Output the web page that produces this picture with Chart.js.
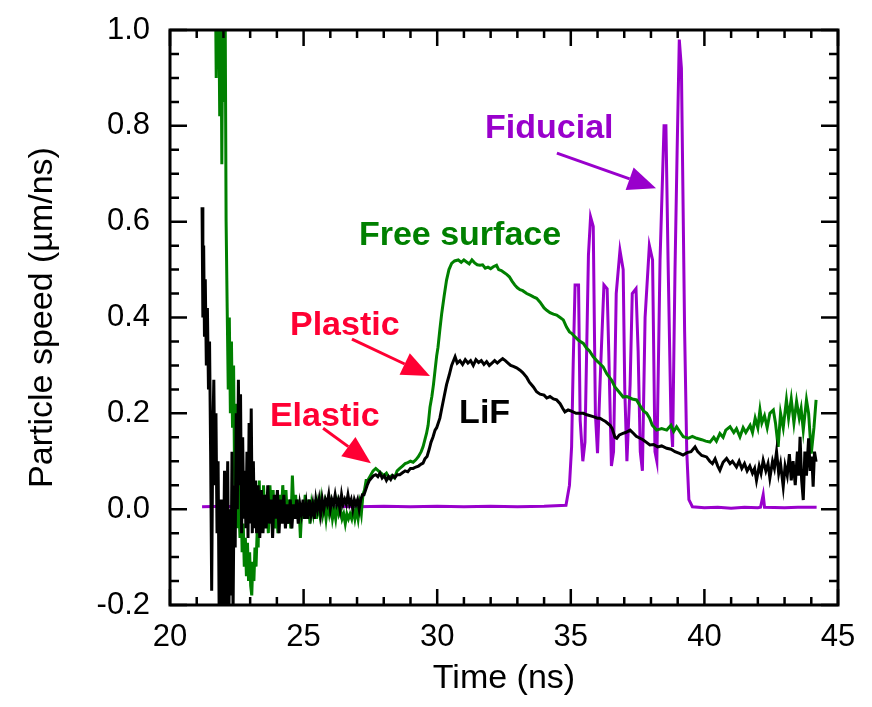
<!DOCTYPE html>
<html>
<head>
<meta charset="utf-8">
<script src="https://cdn.jsdelivr.net/npm/chart.js@4.4.1/dist/chart.umd.min.js"></script>
<style>
  body { margin: 0; background: #fff; }
</style>
</head>
<body>
<canvas id="myChart" width="872" height="707"></canvas>
<script>
// time (ns) and particle speed (um/ns)
const lifTime = [21.20,21.23,21.26,21.29,21.32,21.36,21.40,21.44,21.48,21.52,21.56,21.60,21.64,21.68,21.72,21.76,21.80,21.84,21.88,21.92,21.96,22.00,22.04,22.08,22.12,22.16,22.20,22.24,22.28,22.32,22.36,22.40,22.44,22.48,22.52,22.56,22.60,22.64,22.68,22.72,22.76,22.80,22.84,22.88,22.92,22.96,23.00,23.04,23.08,23.12,23.16,23.20,23.24,
  23.30,23.36,23.42,23.48,23.54,23.60,23.66,23.72,23.78,23.84,23.90,23.96,24.02,24.08,24.14,24.20,24.26,24.32,24.38,24.44,24.50,24.56,24.62,24.68,24.74,24.80,24.86,24.92,24.98,25.04,25.10,25.16,25.22,25.28,25.34,25.40,25.46,25.52,25.58,25.64,25.70,25.76,25.82,25.88,25.94,26.00,26.06,26.12,26.18,26.24,26.30,26.36,26.42,26.48,26.54,26.60,26.66,26.72,26.78,26.84,26.90,26.96,27.02,27.08,27.14,
  27.20,27.26,27.32,27.38,27.46,27.54,27.62,27.70,27.78,27.86,27.94,28.02,28.10,28.18,28.26,28.34,28.42,28.50,28.60,28.70,28.80,28.90,29.00,29.10,29.20,29.30,29.40,29.47,29.54,29.62,29.70,29.77,29.84,29.92,29.98,30.04,30.10,30.17,30.26,30.35,30.45,30.54,30.67,30.75,30.85,30.95,31.05,31.15,31.25,31.35,31.45,31.55,31.65,31.75,31.85,31.95,32.05,32.15,32.25,32.35,32.45,32.55,32.65,32.75,32.85,32.97,33.10,33.20,33.35,33.45,33.60,33.72,33.85,34.00,34.10,34.22,34.35,34.47,34.60,34.70,34.78,34.90,35.00,35.20,35.35,35.47,35.60,35.84,36.00,36.09,36.20,36.30,36.47,36.55,36.65,36.72,36.82,36.95,37.05,37.22,37.35,37.45,37.59,37.70,37.82,37.96,38.10,38.25,38.40,38.59,38.75,38.90,39.09,39.20,39.35,39.50,39.65,39.75,39.90,40.08,40.20,40.30,40.40,40.50,40.58,40.70,40.83,40.96,41.05,41.20,41.30,41.40,41.50,41.60,41.70,41.80,41.88,41.95,42.05,42.12,42.20,42.30,42.38,42.45,42.55,42.62,42.70,42.78,42.85,42.95,43.02,43.10,43.18,43.25,43.32,43.40,43.48,43.53,43.58,43.64,43.70,43.76,43.82,43.90,43.96,44.02,44.07,44.12,44.18];
const lifSpeed = [0.63,0.40,0.55,0.36,0.48,0.30,0.42,0.25,0.35,0.12,-0.17,0.15,0.27,0.05,0.20,-0.05,0.10,-0.22,-0.10,0.02,-0.25,-0.12,0.08,-0.22,-0.05,0.10,-0.25,0.00,-0.18,0.12,-0.22,0.05,-0.08,0.20,0.00,0.27,0.05,0.24,-0.05,0.15,-0.02,0.08,-0.04,0.12,-0.06,0.18,-0.03,0.21,-0.05,0.10,-0.04,0.06,-0.05,
  0.05,-0.06,0.04,-0.05,0.03,-0.04,0.05,-0.03,0.02,-0.06,0.03,-0.02,0.04,-0.05,0.02,-0.03,0.03,-0.04,0.01,-0.03,0.02,-0.04,0.01,-0.02,0.02,-0.03,0.01,-0.01,0.02,-0.02,0.01,-0.02,0.02,-0.01,0.01,-0.02,0.02,0.00,0.02,-0.01,0.02,0.00,0.02,0.01,0.03,0.00,0.02,0.01,0.03,0.01,0.02,0.00,0.03,0.01,0.02,0.01,0.03,0.01,0.02,0.00,0.02,0.01,0.02,0.00,0.02,
  0.03,0.03,0.04,0.05,0.06,0.065,0.07,0.072,0.068,0.075,0.065,0.07,0.06,0.068,0.062,0.07,0.066,0.072,0.072,0.076,0.08,0.078,0.085,0.085,0.088,0.09,0.094,0.096,0.105,0.11,0.125,0.14,0.15,0.165,0.17,0.18,0.19,0.21,0.235,0.26,0.28,0.30,0.318,0.305,0.31,0.302,0.312,0.305,0.31,0.30,0.312,0.306,0.31,0.302,0.308,0.30,0.305,0.31,0.305,0.31,0.314,0.31,0.305,0.30,0.298,0.295,0.29,0.285,0.275,0.265,0.255,0.245,0.24,0.238,0.232,0.235,0.23,0.228,0.22,0.21,0.203,0.207,0.205,0.20,0.20,0.20,0.197,0.193,0.19,0.19,0.186,0.183,0.175,0.168,0.15,0.148,0.155,0.158,0.16,0.165,0.158,0.152,0.148,0.145,0.14,0.134,0.135,0.13,0.132,0.127,0.125,0.12,0.116,0.113,0.118,0.12,0.13,0.12,0.112,0.109,0.10,0.095,0.105,0.09,0.081,0.098,0.106,0.095,0.10,0.088,0.10,0.085,0.095,0.08,0.09,0.075,0.085,0.06,0.09,0.075,0.102,0.08,0.095,0.065,0.10,0.085,0.12,0.075,0.095,0.047,0.09,0.07,0.115,0.06,0.10,0.05,0.12,0.07,0.151,0.06,0.019,0.12,0.07,0.148,0.08,0.11,0.047,0.12,0.099];

const freeTime = [21.70,21.73,21.76,21.79,21.82,21.86,21.90,21.94,21.98,22.02,22.06,22.10,22.14,22.18,22.22,22.26,22.30,22.34,22.38,22.42,22.46,22.50,22.54,22.58,22.62,22.66,22.70,22.74,22.78,22.82,22.86,22.90,22.94,22.98,23.02,23.06,23.10,23.14,23.18,23.22,23.26,23.30,23.34,23.38,23.42,
  23.46,23.50,23.56,23.62,23.68,23.74,23.80,23.86,23.92,23.98,24.04,24.10,24.16,24.22,24.28,24.34,24.40,24.46,24.52,24.58,24.64,24.70,24.76,24.82,24.88,24.94,25.00,25.06,25.12,25.18,25.24,25.30,25.36,25.42,25.48,25.54,25.60,25.66,25.72,25.78,25.84,25.90,25.96,26.02,26.08,26.14,26.20,26.26,26.32,26.38,26.44,26.50,26.56,26.62,26.68,26.74,26.80,26.86,26.92,26.98,27.04,27.10,27.16,27.22,27.28,27.34,
  27.40,27.50,27.60,27.70,27.80,27.90,28.00,28.10,28.20,28.30,28.40,28.50,28.60,28.70,28.80,28.90,29.00,29.10,29.20,29.30,29.40,29.47,29.54,29.60,29.66,29.73,29.80,29.86,29.92,29.98,30.03,30.10,30.17,30.26,30.35,30.44,30.54,30.65,30.79,30.90,31.00,31.10,31.20,31.30,31.40,31.50,31.60,31.70,31.80,31.90,32.00,32.10,32.22,32.30,32.40,32.50,32.60,32.70,32.80,32.90,33.00,33.10,33.20,33.35,33.50,33.60,33.72,33.85,34.00,34.10,34.22,34.35,34.47,34.60,34.72,34.84,34.95,35.03,35.15,35.30,35.47,35.59,35.70,35.84,35.97,36.10,36.21,36.35,36.45,36.53,36.65,36.80,36.96,37.10,37.30,37.46,37.60,37.72,37.84,37.95,38.05,38.21,38.40,38.59,38.75,38.85,38.96,39.10,39.21,39.40,39.55,39.71,39.90,40.05,40.21,40.35,40.45,40.58,40.70,40.80,40.96,41.10,41.20,41.33,41.45,41.55,41.71,41.80,41.90,42.00,42.08,42.15,42.25,42.35,42.45,42.58,42.66,42.76,42.85,42.95,43.07,43.15,43.25,43.35,43.45,43.55,43.62,43.70,43.82,43.90,44.00,44.10,44.18];
const freeSpeed = [1.10,0.90,1.10,0.92,1.10,0.82,1.10,0.72,1.10,0.85,1.10,0.60,0.42,0.25,0.40,0.20,0.35,0.17,0.30,0.05,0.22,-0.04,0.14,0.00,-0.06,0.02,-0.09,-0.03,-0.12,-0.06,-0.14,-0.07,-0.15,-0.09,-0.16,-0.18,-0.11,-0.15,-0.08,-0.12,-0.05,-0.08,0.06,-0.03,0.04,
  -0.04,0.05,-0.03,0.03,-0.05,0.05,-0.02,0.04,-0.04,0.02,-0.05,0.03,-0.02,0.05,-0.01,0.04,-0.03,0.02,-0.04,0.07,-0.01,0.03,-0.02,0.02,-0.06,0.01,-0.02,0.03,-0.02,0.02,-0.03,0.01,-0.01,0.02,-0.02,0.01,-0.01,0.02,-0.01,0.01,-0.02,0.01,-0.01,0.01,-0.02,0.00,-0.02,0.01,-0.01,0.00,-0.02,-0.01,-0.03,-0.01,-0.02,-0.01,-0.02,0.00,-0.02,0.00,-0.02,0.01,-0.01,0.03,0.04,0.06,
  0.06,0.07,0.08,0.085,0.08,0.075,0.07,0.075,0.065,0.07,0.065,0.08,0.085,0.09,0.095,0.097,0.10,0.098,0.103,0.11,0.12,0.13,0.145,0.158,0.175,0.213,0.235,0.26,0.29,0.32,0.338,0.375,0.409,0.445,0.478,0.50,0.513,0.518,0.52,0.515,0.52,0.516,0.512,0.52,0.514,0.51,0.509,0.51,0.503,0.505,0.502,0.506,0.509,0.50,0.498,0.494,0.49,0.485,0.476,0.468,0.462,0.458,0.456,0.45,0.446,0.443,0.44,0.432,0.42,0.415,0.41,0.407,0.405,0.40,0.395,0.38,0.37,0.367,0.36,0.352,0.346,0.336,0.33,0.318,0.31,0.303,0.297,0.282,0.275,0.269,0.255,0.245,0.234,0.235,0.23,0.228,0.215,0.205,0.20,0.19,0.175,0.165,0.168,0.165,0.175,0.162,0.172,0.16,0.151,0.148,0.152,0.148,0.145,0.142,0.14,0.15,0.142,0.158,0.15,0.165,0.172,0.16,0.168,0.151,0.17,0.16,0.175,0.16,0.19,0.17,0.207,0.18,0.195,0.17,0.20,0.207,0.18,0.13,0.20,0.17,0.228,0.19,0.23,0.18,0.225,0.19,0.21,0.165,0.228,0.20,0.116,0.17,0.228];

const fidTime = [21.2,22,23,24,25,26,27,28,29,30,31,32,33,34,34.82,34.95,35.03,35.09,35.16,35.29,35.35,35.45,35.53,35.66,35.74,35.84,35.92,36.00,36.12,36.24,36.36,36.42,36.52,36.60,36.70,36.84,36.96,37.02,37.10,37.22,37.30,37.44,37.52,37.60,37.68,37.78,37.94,38.06,38.15,38.22,38.34,38.49,38.56,38.64,38.75,38.81,38.90,38.98,39.06,39.14,39.26,39.34,39.42,39.55,40,40.5,41,41.5,42,42.1,42.2,42.25,43,43.5,44.2];
const fidSpeed = [0.005,0.006,0.004,0.006,0.005,0.006,0.005,0.006,0.005,0.006,0.005,0.006,0.005,0.006,0.008,0.05,0.13,0.305,0.468,0.468,0.186,0.10,0.14,0.53,0.61,0.59,0.20,0.117,0.30,0.468,0.46,0.33,0.09,0.12,0.45,0.54,0.50,0.25,0.10,0.26,0.45,0.46,0.33,0.12,0.08,0.40,0.55,0.52,0.12,0.10,0.52,0.80,0.80,0.52,0.18,0.13,0.50,0.75,0.98,0.92,0.37,0.12,0.02,0.005,0.003,0.004,0.002,0.004,0.003,0.004,0.03,0.004,0.003,0.004,0.004];

const xTicks = [20, 25, 30, 35, 40, 45];
const yTicks = [-0.2, 0.0, 0.2, 0.4, 0.6, 0.8, 1.0];

// labels: [text, color, t, v]  (left edge / baseline in data units)
const labels = [
  ['Free surface', '#008000', 27.07, 0.551],
  ['Plastic', '#ff0033', 24.49, 0.363],
  ['Elastic', '#ff0033', 23.74, 0.173],
  ['LiF', '#000000', 30.82, 0.180],
  ['Fiducial', '#9900cc', 31.79, 0.775]
];
// arrows: [color, t0, v0, t1, v1]
const arrows = [
  ['#ff0033', 26.81, 0.355, 29.73, 0.278],
  ['#ff0033', 25.73, 0.169, 27.52, 0.096],
  ['#9900cc', 34.48, 0.743, 38.19, 0.670]
];

function pts(xs, ys) {
  return xs.map((x, i) => ({ x: x, y: ys[i] }));
}

const FONT = "'Liberation Sans', Arial, sans-serif";

const frame = {
  id: 'frame',
  afterDatasetsDraw(chart) {
    const ctx = chart.ctx;
    const a = chart.chartArea;
    const xs = chart.scales.x, ys = chart.scales.y;
    ctx.save();
    ctx.strokeStyle = '#000';
    ctx.lineWidth = 3;
    ctx.strokeRect(a.left, a.top, a.right - a.left, a.bottom - a.top);
    ctx.lineWidth = 2.5;
    ctx.beginPath();
    for (let k = 20; k <= 45; k++) {
      const px = xs.getPixelForValue(k);
      const len = k % 5 === 0 ? 16 : 8;
      ctx.moveTo(px, a.bottom); ctx.lineTo(px, a.bottom - len);
      ctx.moveTo(px, a.top); ctx.lineTo(px, a.top + len);
    }
    for (let k = -4; k <= 20; k++) {
      const py = ys.getPixelForValue(k * 0.05);
      const len = k % 4 === 0 ? 17 : 9;
      ctx.moveTo(a.left, py); ctx.lineTo(a.left + len, py);
      ctx.moveTo(a.right, py); ctx.lineTo(a.right - len, py);
    }
    ctx.stroke();

    // annotations
    ctx.font = 'bold 34px ' + FONT;
    ctx.textBaseline = 'alphabetic';
    ctx.textAlign = 'left';
    labels.forEach(l => {
      ctx.fillStyle = l[1];
      ctx.fillText(l[0], xs.getPixelForValue(l[2]), ys.getPixelForValue(l[3]));
    });
    arrows.forEach(ar => {
      const x0 = xs.getPixelForValue(ar[1]), y0 = ys.getPixelForValue(ar[2]);
      const x1 = xs.getPixelForValue(ar[3]), y1 = ys.getPixelForValue(ar[4]);
      const ang = Math.atan2(y1 - y0, x1 - x0);
      const hl = 28, hw = 12;
      const bx = x1 - hl * Math.cos(ang), by = y1 - hl * Math.sin(ang);
      ctx.strokeStyle = ar[0];
      ctx.fillStyle = ar[0];
      ctx.lineWidth = 3;
      ctx.beginPath();
      ctx.moveTo(x0, y0); ctx.lineTo(bx, by);
      ctx.stroke();
      ctx.beginPath();
      ctx.moveTo(x1, y1);
      ctx.lineTo(bx + hw * Math.sin(ang), by - hw * Math.cos(ang));
      ctx.lineTo(bx - hw * Math.sin(ang), by + hw * Math.cos(ang));
      ctx.closePath();
      ctx.fill();
    });
    ctx.restore();
  }
};

const ctx = document.getElementById('myChart');

new Chart(ctx, {
  type: 'line',
  data: {
    datasets: [
      { label: 'LiF', data: pts(lifTime, lifSpeed), borderColor: '#000000', order: 1 },
      { label: 'Free surface', data: pts(freeTime, freeSpeed), borderColor: '#008000', order: 2 },
      { label: 'Fiducial', data: pts(fidTime, fidSpeed), borderColor: '#9900cc', order: 3 }
    ]
  },
  options: {
    responsive: false,
    animation: false,
    layout: { padding: { left: 0, right: 34, top: 30, bottom: 0 } },
    elements: {
      point: { radius: 0 },
      line: { borderWidth: 3, tension: 0, fill: false }
    },
    plugins: { legend: { display: false }, tooltip: { enabled: false } },
    scales: {
      x: {
        type: 'linear',
        min: 20, max: 45,
        afterFit(s) { s.height = 102; s.paddingLeft = 0; s.paddingRight = 0; },
        afterBuildTicks(s) { s.ticks = xTicks.map(v => ({ value: v })); },
        grid: { display: false, drawTicks: false },
        border: { display: false },
        ticks: { padding: 14, color: '#000', font: { family: FONT, size: 31 }, maxRotation: 0 },
        title: { display: true, text: 'Time (ns)', color: '#000', font: { family: FONT, size: 34 }, padding: { top: 0, bottom: 8 } }
      },
      y: {
        type: 'linear',
        min: -0.2, max: 1.0,
        afterFit(s) { s.width = 170; s.paddingTop = 0; s.paddingBottom = 0; },
        afterBuildTicks(s) { s.ticks = yTicks.map(v => ({ value: v })); },
        grid: { display: false, drawTicks: false },
        border: { display: false },
        ticks: { padding: 20, color: '#000', font: { family: FONT, size: 31 }, callback: v => v.toFixed(1) },
        title: { display: true, text: 'Particle speed (µm/ns)', color: '#000', font: { family: FONT, size: 34 }, padding: { top: 22, bottom: 0 } }
      }
    }
  },
  plugins: [frame]
});
</script>
</body>
</html>
